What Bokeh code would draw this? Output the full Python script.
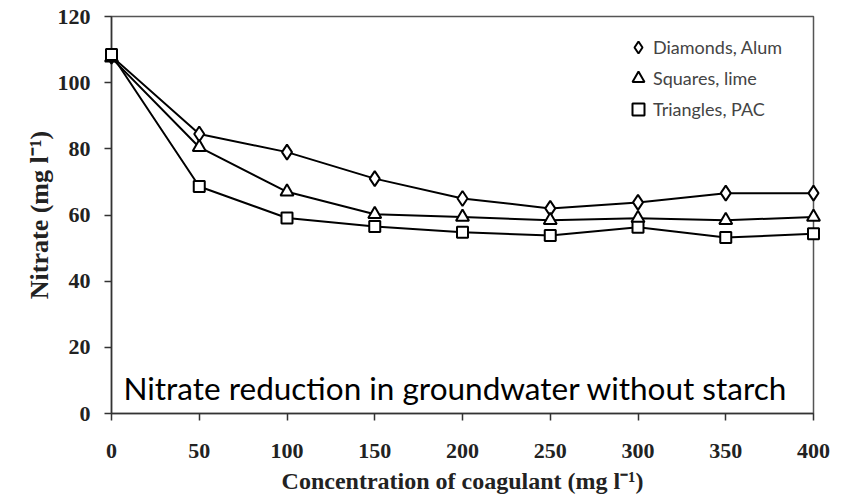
from bokeh.plotting import figure
from bokeh.models import Legend, LegendItem, Label, Range1d, FixedTicker
from bokeh.embed import file_html
from bokeh.resources import INLINE

conc = [0, 50, 100, 150, 200, 250, 300, 350, 400]
alum = [108, 84.5, 79, 71, 65, 62, 63.8, 66.6, 66.6]
lime = [107.5, 80.5, 67, 60.2, 59.4, 58.4, 59, 58.4, 59.4]
pac = [108.5, 68.6, 59.1, 56.5, 54.8, 53.8, 56.3, 53.2, 54.3]
x_ticks = [0, 50, 100, 150, 200, 250, 300, 350, 400]
y_ticks = [0, 20, 40, 60, 80, 100, 120]
labels = ["Diamonds, Alum", "Squares, lime", "Triangles, PAC"]
annotation = "Nitrate reduction in groundwater without starch"
x_title = "Concentration of coagulant (mg l\u207b\u00b9)"
y_title = "Nitrate (mg l\u207b\u00b9)"

p = figure(width=853, height=496, output_backend="svg", toolbar_location=None,
           x_range=Range1d(0, 400), y_range=Range1d(0, 120),
           min_border_left=111, min_border_right=40, min_border_top=16, min_border_bottom=83)
p.grid.visible = False
p.outline_line_color = "#555555"
p.outline_line_width = 1.5
p.background_fill_color = "white"
p.border_fill_color = "white"

for ax in (p.xaxis[0], p.yaxis[0]):
    ax.axis_line_color = "#333333"
    ax.axis_line_width = 1.5
    ax.major_tick_line_color = "#333333"
    ax.major_tick_line_width = 1.5
    ax.major_tick_in = 0
    ax.major_tick_out = 7
    ax.minor_tick_line_color = None
    ax.major_label_text_font = "Liberation Serif"
    ax.major_label_text_font_style = "bold"
    ax.major_label_text_font_size = "22px"
    ax.major_label_text_color = "#222222"
    ax.axis_label_text_font = "Liberation Serif"
    ax.axis_label_text_font_style = "bold"
    ax.axis_label_text_color = "#222222"

p.xaxis.ticker = FixedTicker(ticks=x_ticks)
p.yaxis.ticker = FixedTicker(ticks=y_ticks)
p.xaxis.major_label_standoff = 23
p.yaxis.major_label_standoff = 14
p.xaxis.axis_label = x_title
p.yaxis.axis_label = y_title
p.xaxis.axis_label_text_font_size = "24px"
p.yaxis.axis_label_text_font_size = "26px"
p.xaxis.axis_label_standoff = 7
p.yaxis.axis_label_standoff = 1

series = [(alum, "diamond", 15), (lime, "triangle", 13), (pac, "square", 11)]
items = []
for (vals, marker, size), lab in zip(series, labels):
    p.line(conc, vals, line_color="black", line_width=2)
    r = p.scatter(conc, vals, marker=marker, size=size, fill_color="white",
                  line_color="black", line_width=2, level="overlay")
    items.append(LegendItem(label=lab, renderers=[r]))

legend = Legend(items=items, location="top_right", border_line_color=None,
                background_fill_alpha=0, label_text_font="Lato",
                label_text_font_size="18px", glyph_width=30, glyph_height=30,
                spacing=1, padding=6, margin=16, label_standoff=0, label_width=144)
p.add_layout(legend)

p.add_layout(Label(x=6.8, y=7.8, text=annotation, text_font="Lato",
                   text_baseline="alphabetic",
                   text_font_size="31.5px", text_color="black"))

open("out.html", "w").write(file_html(p, INLINE))
